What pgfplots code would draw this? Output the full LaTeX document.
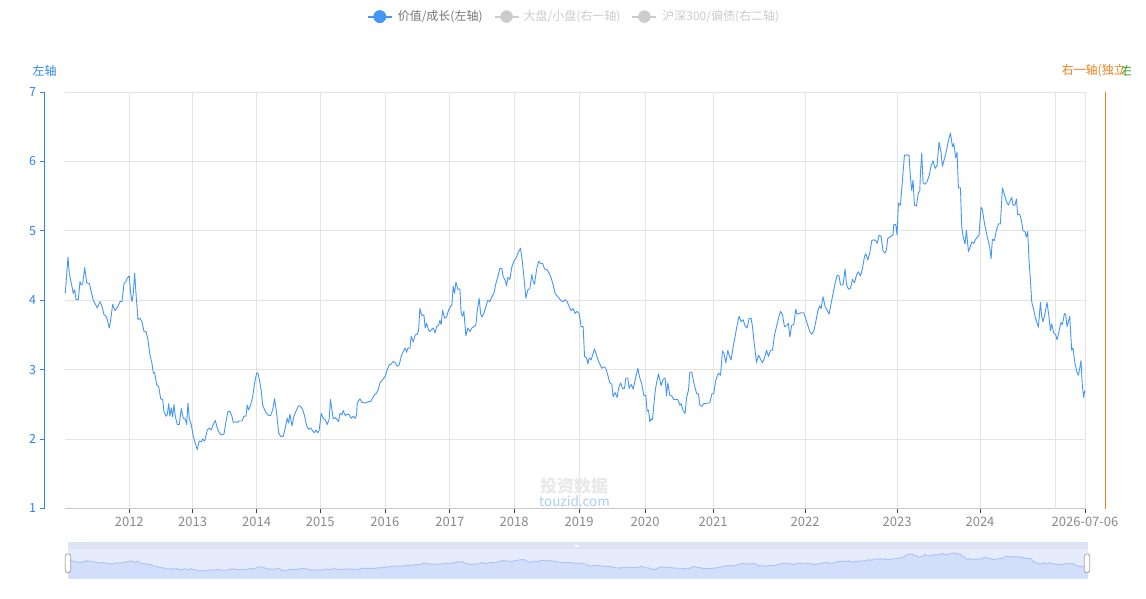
\documentclass[border=0pt]{standalone}
\usepackage{pgfplots}
\pgfplotsset{compat=1.18}
\usepackage{pgfplotstable}
\usepackage{fontspec}
\setmainfont{Noto Sans CJK SC}
\definecolor{lineblue}{HTML}{4597F7}
\definecolor{axisblue}{HTML}{2D86EE}
\definecolor{tickgray}{HTML}{8A8A8A}
\definecolor{gridgray}{HTML}{E4E4E4}
\definecolor{axisgray}{HTML}{C8C8C8}
\definecolor{legtext}{HTML}{777777}
\definecolor{legoff}{HTML}{CCCCCC}
\definecolor{rorange}{HTML}{F0821E}
\definecolor{rgreen}{HTML}{2CA02C}
\definecolor{sband}{HTML}{DDE3F2}
\definecolor{sbg}{HTML}{E6ECFB}
\definecolor{sfill}{HTML}{D3DFFA}
\definecolor{sline}{HTML}{A9C3F5}
\definecolor{wmgray}{HTML}{E9E9E9}
\definecolor{wmblue}{HTML}{A8D0F5}

\pgfplotstableread{
x y
65.3 4.10
68 4.62
69.3 4.39
73.3 4.10
74.7 4.15
76 4.01
78.3 4.01
80 4.27
81.3 4.22
82.7 4.24
84.7 4.47
86.7 4.25
89.3 4.24
93.3 4.00
97.3 3.89
100 3.98
102 3.91
104 3.79
106 3.77
107.3 3.72
109.3 3.60
110.7 3.72
112.7 3.94
115 3.85
118.3 3.92
120 3.98
122 3.98
124 4.24
126 4.27
127.3 4.32
129.3 4.35
130.7 4.10
132 3.98
133.3 4.10
134.7 4.39
136 4.10
138 3.72
140 3.74
142 3.69
144 3.55
146 3.55
148 3.43
150 3.21
152 3.09
153.3 2.95
154.7 2.96
156.7 2.78
158.7 2.76
160.7 2.58
162.7 2.57
164 2.40
166 2.33
167.3 2.35
168.7 2.51
170 2.33
171.3 2.45
172.7 2.32
174 2.50
175.3 2.33
177.3 2.21
179.3 2.21
181.3 2.44
183.3 2.30
185.3 2.29
186.7 2.21
188 2.52
189.3 2.30
191.3 2.21
193.3 2.04
195.3 1.94
197.3 1.85
199.3 1.97
201.3 1.96
202.7 2.00
204.7 1.97
207.3 2.13
209.3 2.16
211.3 2.13
213.3 2.21
215.3 2.27
217.3 2.16
219.3 2.09
221.3 2.06
224 2.07
226 2.25
228 2.40
230 2.40
232 2.33
233.3 2.24
235.3 2.25
237.3 2.24
239.3 2.26
242 2.26
244 2.33
246 2.33
247.3 2.49
248.7 2.42
250.7 2.49
252.7 2.61
254.7 2.81
256.7 2.95
258 2.95
260 2.81
261.3 2.70
262.7 2.49
264.7 2.42
266.7 2.37
268.7 2.34
270.7 2.34
272.7 2.42
274.7 2.58
276.7 2.37
278.7 2.09
280.7 2.04
283.3 2.04
285.3 2.16
287.3 2.30
288.7 2.23
290 2.36
292 2.19
294 2.33
296 2.40
298.7 2.48
300.7 2.47
302.7 2.43
304.7 2.33
306.7 2.19
308.7 2.14
310.7 2.16
312.7 2.12
314.7 2.09
316 2.13
318 2.09
319.3 2.13
321.3 2.37
323.3 2.30
325.3 2.28
327.3 2.21
329.3 2.29
330.5 2.57
332 2.42
333.3 2.29
335.3 2.31
337.3 2.28
338.7 2.25
340 2.37
342 2.35
343.3 2.41
345.3 2.34
347.3 2.36
349.3 2.35
351.3 2.30
353.3 2.33
355.3 2.30
356.7 2.35
357.3 2.52
360 2.58
362 2.53
365.3 2.52
368.7 2.54
370.7 2.54
372.7 2.59
374.7 2.64
376.7 2.66
378.7 2.73
380 2.81
382 2.84
384 2.88
385.3 2.90
387.3 3.00
389.3 3.07
391.3 3.08
393.3 3.12
395.3 3.10
397.3 3.05
399.3 3.07
401.3 3.19
403.3 3.26
405.3 3.31
406.7 3.25
408 3.31
410 3.31
411.3 3.48
413.3 3.40
415.3 3.50
417.3 3.51
418.7 3.57
420 3.88
422 3.78
424 3.79
425.3 3.60
426.7 3.67
428.7 3.57
430 3.55
432 3.58
433.3 3.60
435.3 3.53
436.7 3.62
438.7 3.64
440 3.71
441.3 3.65
442.7 3.86
444.7 3.74
446.7 3.76
448.7 3.86
450.7 3.91
452 3.93
453.3 4.20
454.7 4.10
456 4.26
458 4.16
460 4.16
461.3 3.81
462.7 3.77
464 3.84
466 3.49
468 3.60
470 3.55
472 3.60
474 3.62
476 3.64
477.3 3.84
479.3 4.03
480.7 3.81
482 3.76
484 3.81
486 3.91
488 4.00
490 3.98
492 4.05
494 4.10
496 4.24
498 4.34
500 4.46
502 4.46
503.3 4.34
505.3 4.29
506.7 4.21
508 4.33
510 4.30
512 4.48
514 4.56
516 4.60
518 4.68
520.7 4.75
522.7 4.53
524.7 4.24
526 4.03
528 4.15
530 4.17
532 4.37
533.3 4.27
534.7 4.23
536.7 4.44
538.7 4.56
540.7 4.53
542.7 4.53
544.7 4.45
547.3 4.44
549.3 4.39
551.3 4.32
553.3 4.22
555.3 4.10
557.3 4.06
559.3 4.03
561.3 3.99
563.3 3.98
565.3 4.01
567.3 3.98
569.3 3.91
571.3 3.85
573.3 3.88
575.3 3.81
577.3 3.84
579.3 3.81
581.3 3.62
583.3 3.62
584.7 3.19
586.7 3.17
588 3.08
589.3 3.17
591.3 3.14
592.7 3.21
594.7 3.30
596.7 3.21
598.7 3.12
602 3.02
604 3.04
606 3.02
608 2.92
610 2.81
612 2.79
613.3 2.61
615.3 2.67
617.3 2.60
618.7 2.73
620.7 2.81
622.7 2.73
624.7 2.73
626 2.88
628 2.88
629.3 2.73
631.3 2.79
633.3 2.72
635.3 2.85
638 3.02
640 2.88
642 2.79
644 2.63
646 2.63
647.3 2.40
648.7 2.42
650 2.25
651.3 2.29
652.7 2.28
654 2.49
655.3 2.68
656.7 2.81
658.7 2.94
661.3 2.77
663.3 2.86
665.3 2.88
666.7 2.62
668 2.81
670 2.63
672 2.62
674 2.57
676 2.57
678 2.57
680 2.49
681.3 2.51
683.3 2.41
685.3 2.37
686.7 2.59
688.7 2.71
690 2.96
692 2.96
694 2.81
696.7 2.66
698.7 2.65
700 2.49
702 2.47
704 2.51
706 2.51
708 2.52
710 2.52
712 2.65
714 2.66
716 2.85
717.3 2.90
718.7 2.95
720.7 2.92
722.7 3.27
724 3.24
726 3.10
728 3.28
729.3 3.21
731.3 3.14
733.3 3.33
735.3 3.48
737.3 3.64
739.3 3.77
741.3 3.69
743.3 3.72
745.3 3.63
747.3 3.60
749.3 3.74
751.3 3.74
752.7 3.62
754 3.43
755.3 3.28
756.7 3.10
758.7 3.21
760.7 3.15
762.7 3.10
764.7 3.17
766.7 3.28
768.7 3.19
770.7 3.28
772.7 3.28
774.7 3.50
776.7 3.62
778.7 3.74
780.7 3.84
782.7 3.79
784.7 3.62
786.7 3.63
788.7 3.67
790 3.47
792 3.64
794 3.65
796 3.87
797.3 3.80
799.3 3.81
801.3 3.82
804 3.82
806 3.73
808 3.64
810 3.55
812 3.51
814 3.56
816 3.69
818 3.84
820 3.92
821.3 3.88
823.3 4.05
825.3 3.91
827.3 3.86
829.3 3.80
831.3 3.95
833.3 4.10
835.3 4.24
837.3 4.36
839.3 4.35
840.7 4.22
843.3 4.22
845.3 4.45
846.7 4.23
848.7 4.16
850.7 4.17
852.7 4.30
854.7 4.25
856.7 4.36
858.7 4.41
860.7 4.35
862.7 4.46
864.7 4.63
866 4.67
868 4.58
870 4.68
872 4.86
874 4.87
876 4.86
877.3 4.82
879.3 4.94
881.3 4.92
883.3 4.71
885.3 4.68
886.7 4.73
888 4.89
890 4.91
892 4.93
893.3 4.94
894 5.09
896 5.09
897.3 4.94
898.7 5.40
900.7 5.37
902.7 5.73
904.7 6.09
906.7 6.09
909.3 6.09
910.7 5.76
912 5.58
913.3 5.73
914.7 5.37
916.7 5.36
918.7 5.56
920 5.56
920.7 5.83
922 6.12
923.3 5.69
925.3 5.67
927.3 5.71
929.3 5.79
931.3 5.93
933.3 6.01
935.3 5.90
937.3 5.94
939.3 6.28
941.3 6.13
942.7 5.93
944.7 6.04
946.7 6.15
948.7 6.30
950.7 6.41
952.7 6.21
954 6.26
956 6.05
957.3 6.13
958.7 5.62
960.7 5.62
962 5.06
963.3 4.92
965.3 4.81
966.7 5.01
968.7 4.70
970.7 4.78
972 4.84
974 4.82
976 4.88
978 4.91
979.3 4.94
981.3 5.34
982.7 5.30
984.7 5.11
986.7 4.97
988.7 4.84
990 4.76
991.3 4.60
992.7 4.88
994.7 4.86
996.7 5.01
998.7 5.10
1000.7 5.10
1002.7 5.62
1004.7 5.52
1006.7 5.42
1008.7 5.37
1010.7 5.44
1012 5.48
1013.3 5.37
1015.3 5.37
1016.7 5.46
1018 5.23
1020 5.24
1022 5.13
1023.3 5.00
1025.3 4.99
1026.7 4.91
1028 4.99
1029.3 4.58
1030.7 4.29
1032 3.98
1034 3.86
1036 3.73
1038.7 3.61
1040.7 3.97
1042 3.77
1043.3 3.69
1045.3 3.81
1047.3 3.97
1049.3 3.76
1050.7 3.56
1052 3.66
1054 3.53
1056 3.50
1057.3 3.43
1059.3 3.55
1061.3 3.68
1062.7 3.65
1064.7 3.81
1066 3.79
1067.3 3.62
1068.7 3.69
1070 3.77
1072 3.28
1073.3 3.31
1075.3 3.09
1077.3 2.96
1078.7 2.92
1080 3.02
1081.3 3.13
1082.7 2.76
1084 2.60
1085 2.70
}\valuedata

\begin{document}
\begin{tikzpicture}[x=1pt,y=1pt]
\useasboundingbox (0,0) rectangle (1146,-599);
\fill[white] (0,0) rectangle (1146,-599);

% top buttons (cut off at top edge)
\begin{scope}
\clip (0,0) rectangle (1146,-10);
\draw[black!15, rounded corners=3pt] (776,8) rectangle (845,2);
\draw[black!15, rounded corners=3pt] (847,8) rectangle (887,2);
\draw[axisblue, line width=1.2pt] (848,1.6) -- (886,1.6);
\draw[black!15, rounded corners=3pt] (907,8) rectangle (987,1.5);
\draw[black!15, rounded corners=3pt] (991,8) rectangle (1100,1.5);
\end{scope}

% main axis
\begin{axis}[
  at={(65pt,-508.5pt)}, anchor=south west,
  scale only axis, width=1020pt, height=416.5pt,
  xmin=65, xmax=1085.3, ymin=1, ymax=7,
  axis x line*=bottom, axis y line*=left,
  x axis line style={draw=axisgray, line width=0.9pt, -},
  y axis line style={draw=none},
  xtick={129.3,192.7,256.7,320.3,385,450,514.3,579.3,645.3,713.3,805.3,897.3,980.3,1085.3},
  xticklabels={2012,2013,2014,2015,2016,2017,2018,2019,2020,2021,2022,2023,2024,2026-07-06},
  extra x ticks={1055.3},
  extra x tick labels={},
  extra x tick style={grid=major, major tick length=0pt},
  xtick align=outside,
  major tick length=4.5pt,
  xtick style={draw=black!75, line width=0.8pt},
  ytick={1,2,3,4,5,6,7},
  yticklabels={},
  ytick style={draw=none},
  xmajorgrids, ymajorgrids,
  major grid style={draw=gridgray, line width=0.8pt},
  xticklabel style={font=\fontsize{13}{15}\selectfont, text=tickgray, yshift=-0.5pt},
  clip=false,
  legend columns=-1,
  legend style={at={(0.4985,1.181)}, anchor=center, draw=none, fill=none,
    font=\fontsize{12}{14}\selectfont,
    /tikz/every even column/.append style={column sep=10pt},
    nodes={inner sep=1pt}},
]
\addplot[lineblue, line width=0.9pt, line join=round,
  legend image code/.code={\draw[lineblue, line width=2pt] (0pt,0pt) -- (24pt,0pt); \fill[lineblue] (12pt,0pt) circle (6pt);}]
  table[x=x,y=y] {\valuedata};
\addlegendentry{\hspace{4pt}\textcolor{legtext}{价值/成长(左轴)}}
\addlegendimage{legend image code/.code={\draw[legoff, line width=2pt] (0pt,0pt) -- (24pt,0pt); \fill[legoff] (12pt,0pt) circle (6pt);}}
\addlegendentry{\hspace{3pt}\textcolor{legoff}{大盘/小盘(右一轴)}}
\addlegendimage{legend image code/.code={\draw[legoff, line width=2pt] (0pt,0pt) -- (24pt,0pt); \fill[legoff] (12pt,0pt) circle (6pt);}}
\addlegendentry{\hspace{4pt}\textcolor{legoff}{沪深300/偏债(右二轴)}}
\end{axis}

% left axis (offset)
\begin{axis}[
  at={(44pt,-508.5pt)}, anchor=south west,
  scale only axis, width=10pt, height=416.5pt,
  xmin=0, xmax=1, ymin=1, ymax=7,
  axis x line=none, axis y line*=left,
  y axis line style={draw=axisblue, line width=0.9pt, -},
  xtick=\empty,
  ytick={1,2,3,4,5,6,7},
  ytick align=outside, major tick length=4.5pt,
  ytick style={draw=axisblue, line width=0.9pt},
  yticklabel style={font=\fontsize{12.5}{14}\selectfont, text=axisblue, /pgf/number format/assume math mode=true},
]
\end{axis}

% right axis line (orange)
\begin{axis}[
  at={(1105pt,-508.5pt)}, anchor=south east,
  scale only axis, width=10pt, height=416.5pt,
  xmin=0, xmax=1, ymin=1, ymax=7,
  axis x line=none, axis y line*=right,
  y axis line style={draw=rorange, line width=0.9pt, -},
  xtick=\empty, ytick=\empty,
]
\end{axis}

% axis names
\node[text=axisblue, font=\fontsize{12}{14}\selectfont] at (44.5,-71) {左轴};
\node[text=rorange, font=\fontsize{12}{14}\selectfont, anchor=west, inner sep=0pt] at (1061.5,-71) {右一轴(独立};
\begin{scope}
\clip (1122,-60) rectangle (1130,-82);
\node[text=rgreen, font=\fontsize{12}{14}\selectfont, anchor=west, inner sep=0pt] at (1121.5,-71) {右};
\end{scope}

% watermark
\node[text=wmgray, font=\bfseries\fontsize{17}{19}\selectfont] at (574,-486) {投资数据};
\node[text=wmblue, font=\fontsize{13.5}{15}\selectfont] at (574.5,-501.5) {touzid.com};

% slider
\fill[sband] (68,-542.3) rectangle (1088,-549.3);
\fill[sbg] (68,-549.3) rectangle (1088,-578.5);
\fill[white] (575,-544.5) rectangle (579,-546.5);
\begin{axis}[
  at={(68pt,-578.5pt)}, anchor=south west,
  scale only axis, width=1020pt, height=29.2pt,
  xmin=65, xmax=1085, ymin=0, ymax=7.3,
  hide axis,
]
\addplot[fill=sfill, draw=none] table[x=x,y=y] {\valuedata} \closedcycle;
\addplot[sline, line width=0.9pt] table[x=x,y=y] {\valuedata};
\end{axis}
\draw[black!35, fill=white, rounded corners=1.5pt, line width=0.8pt] (65.3,-554) rectangle (70.7,-572.5);
\draw[black!35, fill=white, rounded corners=1.5pt, line width=0.8pt] (1084.3,-554) rectangle (1089.7,-572.5);
\end{tikzpicture}
\end{document}
